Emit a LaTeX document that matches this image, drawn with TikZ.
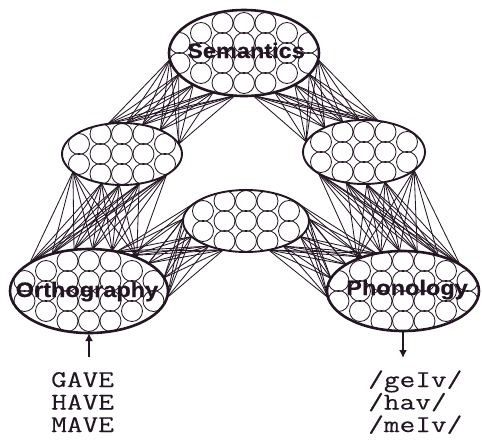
\documentclass[tikz,border=0pt]{standalone}
\usepackage{fontspec}
\usetikzlibrary{shapes.geometric,arrows.meta}
\newfontfamily\labelfont[FakeStretch=1.12,FakeBold=0.6]{Liberation Sans}
\newfontfamily\monofont[FakeStretch=1.27,FakeBold=0.15]{Latin Modern Mono}
\definecolor{ink}{RGB}{35,22,35}
\newcommand\unitsbig[1]{%
  \foreach \k/\offs in {-3/{-10,10},-2/{-20,0,20},-1/{-30,-10,10,30},0/{-30,-10,10,30},1/{-30,-10,10,30},2/{-20,0,20},3/{-10,10}}{%
    \foreach \o in \offs {\draw[unit] ([shift={(\k*21.5,\o)}]#1.center) circle[radius=10.5];}}}
\newcommand\unitssmall[1]{%
  \foreach \k/\offs in {-2/{-10,10},-1/{-20,0,20},0/{-20,0,20},1/{-20,0,20},2/{-10,10}}{%
    \foreach \o in \offs {\draw[unit] ([shift={(\k*21.5,\o)}]#1.center) circle[radius=10.5];}}}
\newcommand\paintlayer[5]{% name, rx, ry, line width, units macro
  \fill[white] (#1.center) ellipse [x radius=#2, y radius=#3];
  \begin{scope}
    \clip (#1.center) ellipse [x radius=#2, y radius=#3];
    #5{#1}
  \end{scope}
  \draw[ink, line width=#4] (#1.center) ellipse [x radius=#2, y radius=#3];}
\begin{document}
\begin{tikzpicture}[x=1pt,y=-1pt,
  layer/.style={ellipse, draw=none, inner sep=0pt, outer sep=0pt},
  conn/.style={draw=ink, line width=0.85pt},
  unit/.style={draw=ink, line width=0.85pt},
  lbl/.style={font=\labelfont\bfseries\fontsize{21}{21}\selectfont, text=ink, inner sep=0pt, anchor=base},
  word/.style={font=\monofont\fontsize{24}{24}\selectfont, text=ink, anchor=base west, inner sep=0pt},
  io/.style={draw=ink, line width=2.2pt, -{Latex[length=8pt,width=8pt]}}]
\useasboundingbox (0,0) rectangle (482,440);
% layers (shapes only, for anchors)
\node[layer, minimum width=150pt, minimum height=86pt] (sem) at (244,53) {};
\node[layer, minimum width=120pt, minimum height=62pt] (hl) at (122,154) {};
\node[layer, minimum width=122pt, minimum height=64pt] (hr) at (364,152) {};
\node[layer, minimum width=126pt, minimum height=62pt] (hm) at (246,221) {};
\node[layer, minimum width=158pt, minimum height=84pt] (orth) at (89,291) {};
\node[layer, minimum width=152pt, minimum height=80pt] (phon) at (403,291) {};
% connections
\foreach \a in {185,198,212,232,258} \foreach \b in {115,82,55,32,10} \draw[conn] (sem.\a) -- (hl.\b);
\foreach \a in {355,342,328,308,282} \foreach \b in {65,98,125,148,170} \draw[conn] (sem.\a) -- (hr.\b);
\foreach \a in {200,235,265,300,335} \foreach \b in {35,60,85,110,135,155} \draw[conn] (hl.\a) -- (orth.\b);
\foreach \a in {205,240,275,305,340} \foreach \b in {25,45,70,95,120,145} \draw[conn] (hr.\a) -- (phon.\b);
\foreach \a in {-5,10,25,40,55} \foreach \b in {160,178,196,214,232} \draw[conn] (orth.\a) -- (hm.\b);
\foreach \a in {125,140,155,170,185} \foreach \b in {308,326,344,2,20} \draw[conn] (phon.\a) -- (hm.\b);
% layers painted
\paintlayer{sem}{75}{43}{2.6pt}{\unitsbig}
\paintlayer{hl}{60}{31}{1.9pt}{\unitssmall}
\paintlayer{hr}{61}{32}{1.9pt}{\unitssmall}
\paintlayer{hm}{63}{31}{1.9pt}{\unitssmall}
\paintlayer{orth}{79}{42}{2.6pt}{\unitsbig}
\paintlayer{phon}{76}{40}{2.6pt}{\unitsbig}
% labels
\node[lbl] (semlbl) at (246,58) {Semantics};
\node[lbl] (orthlbl) at (87,297) {Orthography};
\node[lbl] (phonlbl) at (407,295) {Phonology};
% input / output arrows
\coordinate (oin) at (89,357);
\coordinate (pout) at (403,358);
\draw[io] (oin) -- (orth.south);
\draw[io] (phon.south) -- (pout);
% words
\node[word] (w1) at (51,387) {GAVE};
\node[word] (w2) at (51,409.5) {HAVE};
\node[word] (w3) at (51,432) {MAVE};
\node[word] (p1) at (368,387) {/geIv/};
\node[word] (p2) at (368,409.5) {/hav/};
\node[word] (p3) at (368,432) {/meIv/};
\end{tikzpicture}
\end{document}
